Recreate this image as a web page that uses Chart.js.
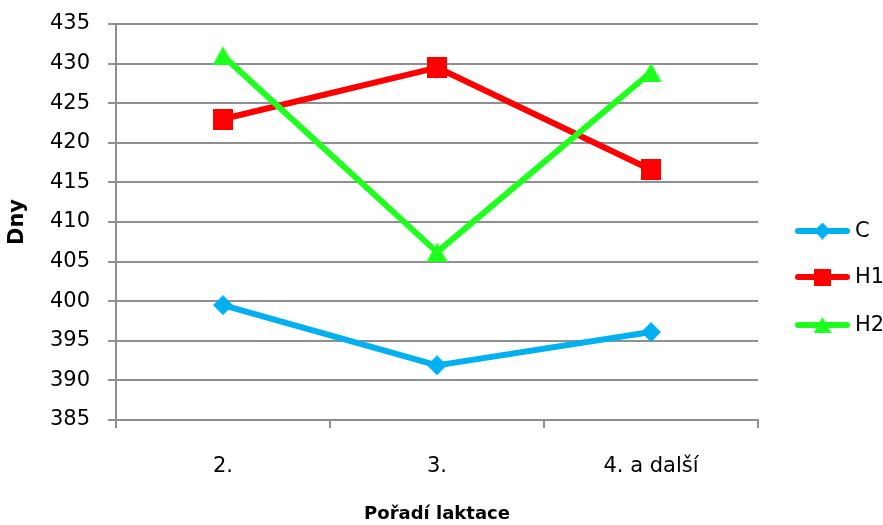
<!DOCTYPE html>
<html>
<head>
<meta charset="utf-8">
<style>
  html, body { margin: 0; padding: 0; background: #ffffff; }
  #wrap { width: 883px; height: 525px; }
</style>
<script src="https://cdn.jsdelivr.net/npm/chart.js@4/dist/chart.umd.min.js"></script>
</head>
<body>
<div id="wrap"><canvas id="chart" width="883" height="525"></canvas></div>
<script>
// Lactation order categories and mean days per group
const categories = ['2.', '3.', '4. a další'];
const seriesNames = ['C', 'H1', 'H2'];
const valuesC  = [399.5, 391.9, 396.1];
const valuesH1 = [423.0, 429.5, 416.6];
const valuesH2 = [431.0, 406.2, 428.9];
const yTicks = [385, 390, 395, 400, 405, 410, 415, 420, 425, 430, 435];

const COLORS = { C: '#00b0f0', H1: '#ff0000', H2: '#1eff1e' };
const FONT = 'DejaVu Sans';

// Marker shapes drawn into small canvases so they sit centred on each point
function markerCanvas(shape, color, w, h) {
  const c = document.createElement('canvas');
  c.width = w; c.height = h;
  const g = c.getContext('2d');
  g.fillStyle = color;
  g.beginPath();
  if (shape === 'diamond') {
    g.moveTo(w / 2, 0); g.lineTo(w, h / 2); g.lineTo(w / 2, h); g.lineTo(0, h / 2);
  } else if (shape === 'square') {
    g.rect(0, 0, w, h);
  } else {
    g.moveTo(w / 2, 0); g.lineTo(w, h); g.lineTo(0, h);
  }
  g.closePath();
  g.fill();
  return c;
}

const markers = {
  C:  markerCanvas('diamond', COLORS.C, 20, 20),
  H1: markerCanvas('square', COLORS.H1, 20, 21),
  H2: markerCanvas('triangle', COLORS.H2, 21, 19)
};
const legendMarkers = {
  C:  markerCanvas('diamond', COLORS.C, 17, 17),
  H1: markerCanvas('square', COLORS.H1, 17, 17),
  H2: markerCanvas('triangle', COLORS.H2, 18, 16)
};

function lineSet(name, data, order) {
  return {
    label: name,
    data: data,
    borderColor: COLORS[name],
    backgroundColor: COLORS[name],
    borderWidth: 6,
    tension: 0,
    borderJoinStyle: 'round',
    borderCapStyle: 'round',
    pointStyle: markers[name],
    pointRadius: 10,
    pointHoverRadius: 10,
    order: order
  };
}

// Legend on the right: line segment with marker, then series name
const sideLegend = {
  id: 'sideLegend',
  afterDraw(chart) {
    const ctx = chart.ctx;
    const ys = [231, 277, 325];
    ctx.save();
    chart.data.datasets.forEach((ds, i) => {
      const y = ys[i];
      ctx.strokeStyle = ds.borderColor;
      ctx.lineWidth = 6;
      ctx.lineCap = 'round';
      ctx.beginPath();
      ctx.moveTo(798, y);
      ctx.lineTo(847, y);
      ctx.stroke();
      const m = legendMarkers[ds.label];
      ctx.drawImage(m, 822.5 - m.width / 2, y - m.height / 2);
      ctx.fillStyle = '#000000';
      ctx.font = '21px "' + FONT + '"';
      ctx.textBaseline = 'middle';
      ctx.textAlign = 'left';
      ctx.fillText(ds.label, 855, y + 1);
    });
    ctx.restore();
  }
};

const GRID = '#8f8f8f';

new Chart(document.getElementById('chart'), {
  type: 'line',
  data: {
    labels: categories,
    datasets: [
      lineSet(seriesNames[0], valuesC, 2),
      lineSet(seriesNames[1], valuesH1, 1),
      lineSet(seriesNames[2], valuesH2, 0)
    ]
  },
  options: {
    responsive: false,
    animation: false,
    layout: { padding: { top: 24, right: 125, bottom: 0, left: 0 } },
    plugins: {
      legend: { display: false },
      tooltip: { enabled: false }
    },
    scales: {
      x: {
        offset: true,
        grid: {
          offset: true,
          drawOnChartArea: false,
          tickLength: 8,
          color: GRID,
          lineWidth: 2
        },
        border: { display: true, color: GRID, width: 2 },
        ticks: {
          color: '#000000',
          font: { family: FONT, size: 21 },
          padding: 26,
          maxRotation: 0
        },
        title: {
          display: true,
          text: 'Pořadí laktace',
          color: '#000000',
          font: { family: FONT, size: 18, weight: 'bold' },
          padding: { top: 0, bottom: 0 }
        },
        afterFit(scale) { scale.height = 105; }
      },
      y: {
        min: 385,
        max: 435,
        afterBuildTicks(scale) { scale.ticks = yTicks.map(v => ({ value: v })); },
        grid: {
          tickLength: 8,
          color: GRID,
          lineWidth: 2
        },
        border: { display: true, color: GRID, width: 2 },
        ticks: {
          color: '#000000',
          font: { family: FONT, size: 21 },
          padding: 18
        },
        title: {
          display: true,
          text: 'Dny',
          color: '#000000',
          font: { family: FONT, size: 21, weight: 'bold' },
          padding: { top: 5, bottom: 0 }
        },
        afterFit(scale) {
          scale.width = 116;
          scale.paddingTop = 0;
          scale.paddingBottom = 0;
        }
      }
    }
  },
  plugins: [sideLegend]
});
</script>
</body>
</html>
